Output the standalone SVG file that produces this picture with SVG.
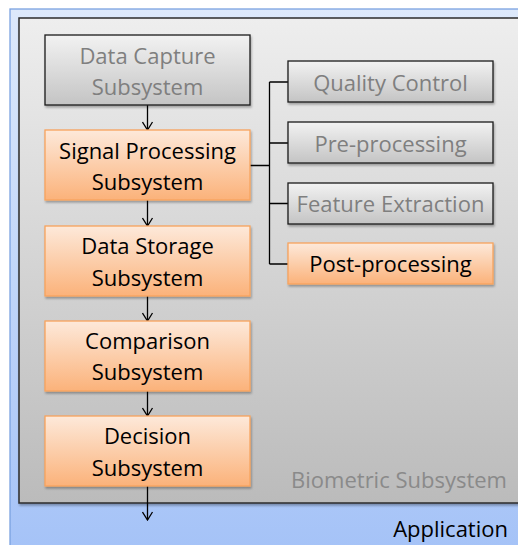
<svg xmlns="http://www.w3.org/2000/svg" width="518" height="545" viewBox="0 0 518 545">
<defs>
<linearGradient id="gBlue" x1="0" y1="0" x2="0" y2="1"><stop offset="0" stop-color="#dde9fb"/><stop offset="1" stop-color="#a4c2f7"/></linearGradient>
<linearGradient id="gSys" x1="0" y1="0" x2="0" y2="1"><stop offset="0" stop-color="#eeeeee"/><stop offset="1" stop-color="#bbbbbb"/></linearGradient>
<linearGradient id="gGray" x1="0" y1="0" x2="0" y2="1"><stop offset="0" stop-color="#f2f2f2"/><stop offset="1" stop-color="#c4c4c4"/></linearGradient>
<linearGradient id="gOr" x1="0" y1="0" x2="0" y2="1"><stop offset="0" stop-color="#fde9da"/><stop offset="1" stop-color="#fbb27a"/></linearGradient>
<filter id="sh" x="-10%" y="-10%" width="130%" height="140%"><feDropShadow dx="1" dy="2" stdDeviation="1.2" flood-color="#000" flood-opacity="0.3"/></filter>
<marker id="arr" markerWidth="12" markerHeight="12" refX="11" refY="6" orient="auto" markerUnits="userSpaceOnUse" viewBox="0 0 12 12">
<path d="M3,1 L11,6 L3,11" fill="none" stroke="#000" stroke-width="1.3"/>
</marker>
</defs>
<style>
text{font-family:"Open Sans","Liberation Sans",sans-serif;font-size:22px;text-anchor:middle}
.g rect{fill:url(#gGray);stroke:#1a1a1a;stroke-width:1.3;filter:url(#sh)}
.g text{fill:#7f7f7f}
.o rect{fill:url(#gOr);stroke:#f7a35c;stroke-width:1.3;filter:url(#sh)}
.o text{fill:#000}
.c{stroke:#000;stroke-width:1.3;fill:none}
</style>
<rect x="0" y="0" width="518" height="545" fill="#fff"/>
<g id="application">
<rect x="10" y="9" width="520" height="550" fill="url(#gBlue)" stroke="#7aa2e0" stroke-width="1.3"/>
<text x="508" y="537" style="text-anchor:end;fill:#000">Application</text>
</g>
<g id="biometric">
<rect x="19" y="18" width="510" height="485" fill="url(#gSys)" stroke="#2b2b2b" stroke-width="1.5" filter="url(#sh)"/>
<text x="507" y="488" style="text-anchor:end;fill:#8a8a8a">Biometric Subsystem</text>
</g>
<g id="connectors">
<line class="c" x1="147.5" y1="105" x2="147.5" y2="130" marker-end="url(#arr)"/>
<line class="c" x1="147.5" y1="200" x2="147.5" y2="226" marker-end="url(#arr)"/>
<line class="c" x1="147.5" y1="296" x2="147.5" y2="321" marker-end="url(#arr)"/>
<line class="c" x1="147.5" y1="391" x2="147.5" y2="416" marker-end="url(#arr)"/>
<line class="c" x1="147.5" y1="486" x2="147.5" y2="520" marker-end="url(#arr)"/>
<path class="c" d="M250,165.5 H269.5 M269.5,82 V264 M269.5,82 H288 M269.5,143 H288 M269.5,203.5 H288 M269.5,264 H288"/>
</g>
<g id="data-capture" class="g"><rect x="45" y="35" width="205" height="70"/><text x="147.5" y="64">Data Capture</text><text x="147.5" y="95">Subsystem</text></g>
<g id="signal-processing" class="o"><rect x="45" y="130" width="205" height="70"/><text x="147.5" y="159">Signal Processing</text><text x="147.5" y="190">Subsystem</text></g>
<g id="data-storage" class="o"><rect x="45" y="226" width="205" height="70"/><text x="147.5" y="254">Data Storage</text><text x="147.5" y="286">Subsystem</text></g>
<g id="comparison" class="o"><rect x="45" y="321" width="205" height="70"/><text x="147.5" y="349">Comparison</text><text x="147.5" y="380">Subsystem</text></g>
<g id="decision" class="o"><rect x="45" y="416" width="205" height="70"/><text x="147.5" y="444">Decision</text><text x="147.5" y="476">Subsystem</text></g>
<g id="quality-control" class="g"><rect x="288" y="61" width="205" height="41"/><text x="390.5" y="91">Quality Control</text></g>
<g id="pre-processing" class="g"><rect x="288" y="122" width="205" height="41"/><text x="390.5" y="152">Pre-processing</text></g>
<g id="feature-extraction" class="g"><rect x="288" y="183" width="205" height="41"/><text x="390.5" y="212">Feature Extraction</text></g>
<g id="post-processing" class="o"><rect x="288" y="243" width="205" height="41"/><text x="390.5" y="272">Post-processing</text></g>
</svg>
